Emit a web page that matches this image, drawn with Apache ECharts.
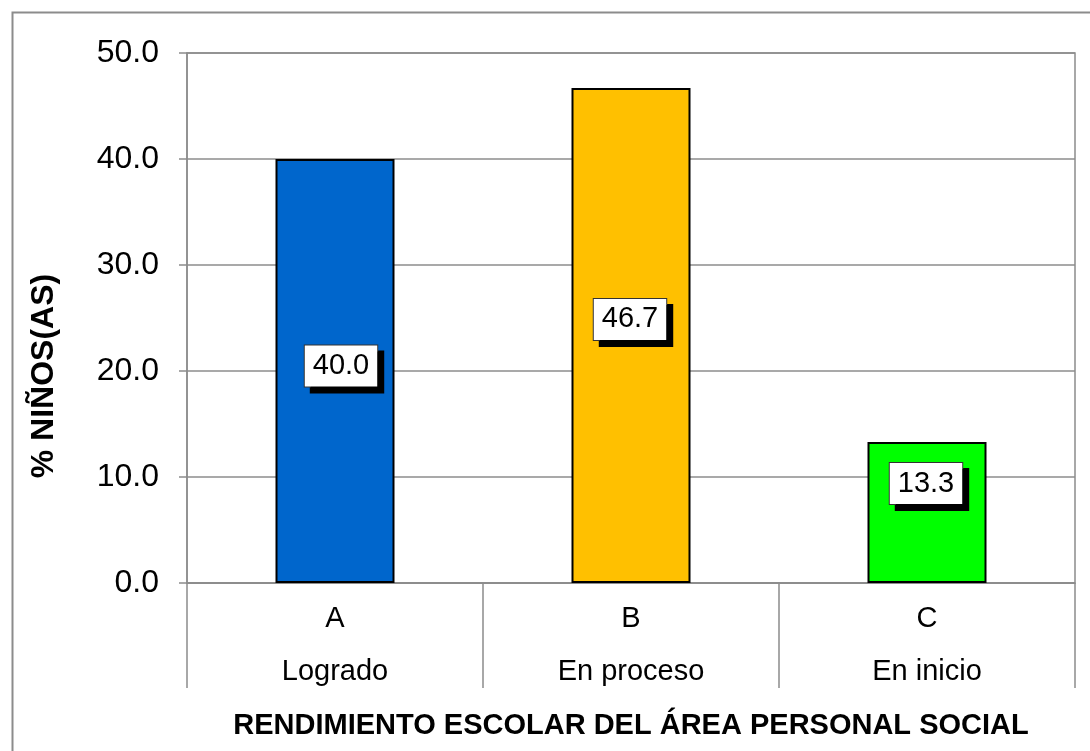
<!DOCTYPE html>
<html>
<head>
<meta charset="utf-8">
<script src="https://cdn.jsdelivr.net/npm/echarts@6/dist/echarts.min.js"></script>
<style>
html,body{margin:0;padding:0;background:#fff;}
#chart{width:1090px;height:751px;}
</style>
</head>
<body>
<div id="chart"></div>
<script>
// ---- data ----
const categoryCodes = ['A', 'B', 'C'];
const categoryNames = ['Logrado', 'En proceso', 'En inicio'];
const percentValues = [40.0, 46.7, 13.3];
const yTickMin = 0, yTickMax = 50, yTickStep = 10;
const yAxisTitle = '% NIÑOS(AS)';
const xAxisTitle = 'RENDIMIENTO ESCOLAR DEL ÁREA PERSONAL SOCIAL';

// ---- styles ----
const barColors = ['#0066CC', '#FFC000', '#00FF00'];
const labelOffsets = [[6, -5], [-1, -16], [-1, -29]];
const FONT = 'Liberation Sans, Arial, sans-serif';
const GRAY = '#8c8c8c';

const chart = echarts.init(document.getElementById('chart'), null, {renderer: 'canvas'});

const seriesData = percentValues.map((v, i) => ({
  value: v,
  itemStyle: {color: barColors[i]},
  label: {offset: labelOffsets[i]}
}));

chart.setOption({
  animation: false,
  backgroundColor: '#fff',
  grid: {
    left: 187, right: 15, top: 53, bottom: 168,
    show: true, borderColor: GRAY, borderWidth: 1.5, containLabel: false
  },
  graphic: [{
    type: 'rect', left: 10, top: 10, silent: true,
    shape: {x: 0, y: 0, width: 1200, height: 900},
    style: {fill: null, stroke: GRAY, lineWidth: 2}
  }, {
    type: 'text', x: 44, y: 376, rotation: Math.PI / 2, silent: true,
    style: {
      text: yAxisTitle, fontFamily: FONT, fontSize: 32, fontWeight: 'bold',
      fill: '#000', align: 'center', verticalAlign: 'middle'
    }
  }],
  xAxis: {
    type: 'category',
    data: categoryCodes,
    name: xAxisTitle,
    nameLocation: 'middle',
    nameGap: 128,
    nameTextStyle: {fontFamily: FONT, fontSize: 29, fontWeight: 'bold', color: '#000'},
    axisLine: {show: true, lineStyle: {color: GRAY, width: 1.5}},
    axisTick: {show: true, alignWithLabel: false, interval: 0, length: 105, lineStyle: {color: GRAY, width: 1.5}},
    axisLabel: {
      interval: 0,
      margin: 9,
      fontFamily: FONT,
      color: '#000',
      formatter: (val, idx) => '{a|' + val + '}\n{b|' + categoryNames[idx] + '}',
      rich: {
        a: {fontFamily: FONT, fontSize: 29, lineHeight: 53, color: '#000'},
        b: {fontFamily: FONT, fontSize: 29, lineHeight: 53, color: '#000'}
      }
    },
    splitLine: {show: false}
  },
  yAxis: {
    type: 'value',
    min: yTickMin, max: yTickMax, interval: yTickStep,
    axisLine: {show: true, lineStyle: {color: GRAY, width: 1.5}},
    axisTick: {show: true, length: 8, lineStyle: {color: GRAY, width: 1.5}},
    axisLabel: {
      margin: 28,
      fontFamily: FONT, fontSize: 32, color: '#000',
      formatter: v => v.toFixed(1)
    },
    splitLine: {show: true, lineStyle: {color: GRAY, width: 1.5}}
  },
  series: [{
    type: 'bar',
    data: seriesData,
    barWidth: 119,
    itemStyle: {borderColor: '#000', borderWidth: 2},
    label: {
      show: true,
      position: 'inside',
      formatter: p => p.value.toFixed(1),
      fontFamily: FONT,
      fontSize: 29,
      lineHeight: 30,
      color: '#000',
      backgroundColor: '#fff',
      borderColor: '#333',
      borderWidth: 1,
      padding: [6, 8, 5, 8],
      shadowColor: '#000',
      shadowBlur: 0,
      shadowOffsetX: 6,
      shadowOffsetY: 6
    }
  }]
});
</script>
</body>
</html>
